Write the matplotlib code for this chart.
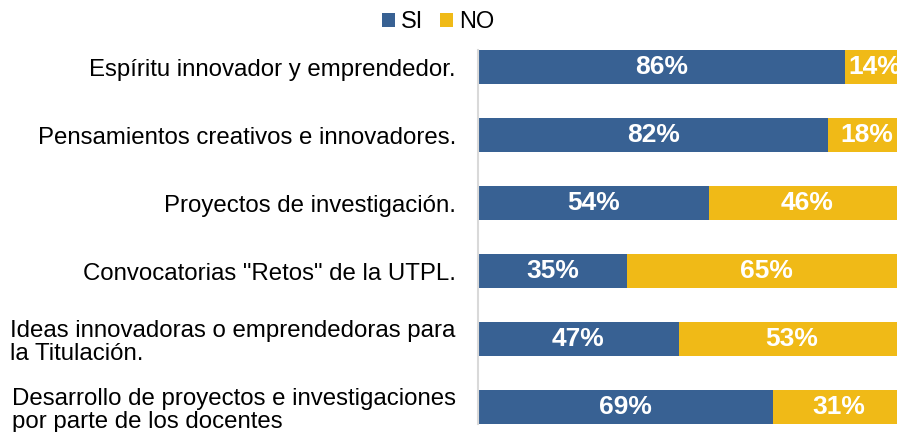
import matplotlib.pyplot as plt
import numpy as np

plt.rcParams['font.family'] = ['Liberation Sans', 'DejaVu Sans']

# Datos
categorias = [
    'Espíritu innovador y emprendedor.',
    'Pensamientos creativos e innovadores.',
    'Proyectos de investigación.',
    'Convocatorias "Retos" de la UTPL.',
    'Ideas innovadoras o emprendedoras para\nla Titulación.',
    'Desarrollo de proyectos e investigaciones\npor parte de los docentes',
]
si = [0.86, 0.82, 0.54, 0.35, 0.47, 0.69]
no = [0.14, 0.18, 0.46, 0.65, 0.53, 0.31]

color_si = '#386193'
color_no = '#F0BA17'

fig = plt.figure(figsize=(8.97, 4.32), dpi=100)
ax = fig.add_axes([478 / 897, 1 - 424 / 432, 419 / 897, 374 / 432])

y = np.arange(len(categorias))
b1 = ax.barh(y, si, height=0.5, color=color_si, label='SI')
b2 = ax.barh(y, no, left=si, height=0.5, color=color_no, label='NO')

for bars in (b1, b2):
    for rect in bars:
        w = rect.get_width()
        ax.text(rect.get_x() + w / 2, rect.get_y() + rect.get_height() / 2,
                f'{w * 100:.0f}%', ha='center', va='center',
                color='white', fontsize=19, fontweight='bold')

ax.set_xlim(0, 419 / 427)
ax.set_ylim(len(categorias) - 0.75, -0.25)
ax.set_yticks(y)
ax.set_yticklabels(categorias, fontsize=17.3, linespacing=1.1)
for lbl in ax.get_yticklabels():
    lbl.set_multialignment('left')
ax.tick_params(axis='y', length=0, pad=16)
ax.set_xticks([])

for s in ['top', 'right', 'bottom']:
    ax.spines[s].set_visible(False)
ax.spines['left'].set_color('#D9D9D9')
ax.spines['left'].set_linewidth(1.5)

fig.legend(loc='center', bbox_to_anchor=(438 / 897, 1 - 22 / 432), ncol=2,
           frameon=False, fontsize=17, handlelength=0.55, handleheight=0.55,
           handletextpad=0.25, columnspacing=0.7, borderpad=0)

fig.savefig('out.png', dpi=100)
